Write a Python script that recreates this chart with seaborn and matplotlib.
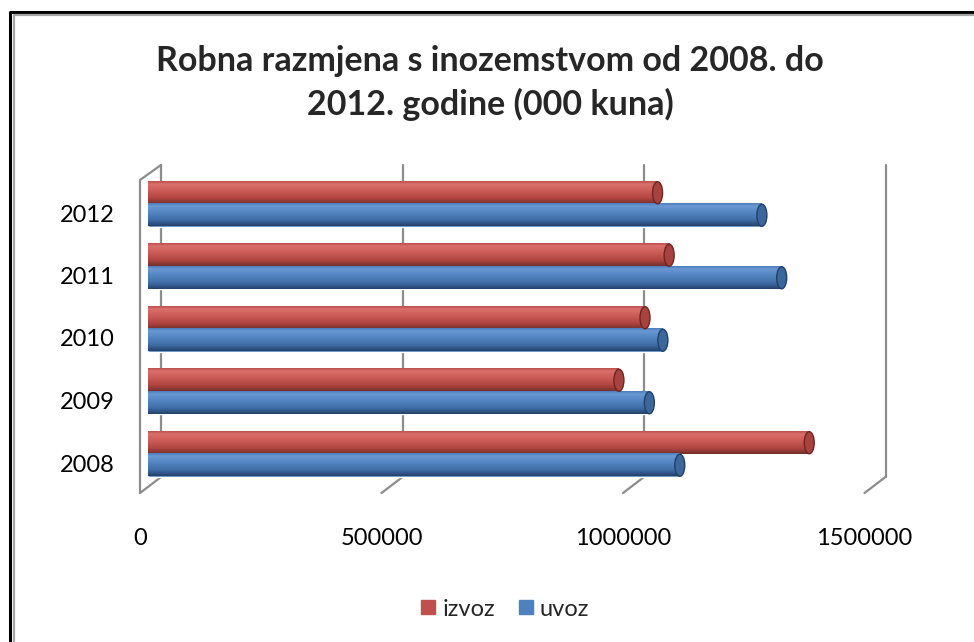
import numpy as np
import pandas as pd
import seaborn as sns
import matplotlib.pyplot as plt
import matplotlib.transforms as mtrans
from matplotlib.patches import Ellipse
from matplotlib.lines import Line2D
from matplotlib.colors import LinearSegmentedColormap

# podaci (000 kuna)
godine = ["2012", "2011", "2010", "2009", "2008"]
izvoz = [1055000, 1079000, 1029000, 975000, 1369000]
uvoz = [1271000, 1312000, 1066000, 1038000, 1101000]
serije = ["izvoz", "uvoz"]
xticks = [0, 500000, 1000000, 1500000]
xmax = 1500000
naslov = "Robna razmjena s inozemstvom od 2008. do\n2012. godine (000 kuna)"

sns.set_theme(style="white")
plt.rcParams['font.family'] = ['Lato', 'DejaVu Sans']

df = pd.DataFrame({
    "godina": godine * 2,
    "serija": ["izvoz"] * len(godine) + ["uvoz"] * len(godine),
    "vrijednost": izvoz + uvoz,
})

W, H = 974, 642
ax_l, ax_r, ax_t, ax_b = 148, 872.5, 172.75, 485.25
fig = plt.figure(figsize=(W / 100, H / 100), dpi=100)
ax = fig.add_axes([ax_l / W, 1 - ax_b / H, (ax_r - ax_l) / W, (ax_b - ax_t) / H])

sns.barplot(data=df, y="godina", x="vrijednost", hue="serija", order=godine,
            hue_order=serije, palette=["#C0504D", "#4F81BD"], width=0.72,
            orient="h", errorbar=None, saturation=1, legend=False, ax=ax)

# cilindricni izgled: gradijent + elipsa na kraju
cmaps = [
    LinearSegmentedColormap.from_list("r", [(0, "#B9504C"), (0.12, "#D9706B"), (0.35, "#D0605B"),
                                            (0.75, "#B1443F"), (1, "#74302C")]),
    LinearSegmentedColormap.from_list("b", [(0, "#4C7DBA"), (0.12, "#6A98D2"), (0.35, "#5889C6"),
                                            (0.75, "#3E6CA5"), (1, "#24416A")]),
]
caps = [("#A7423E", "#6E2623"), ("#3B679B", "#22406A")]
capw = 10 * xmax / (ax_r - ax_l)
grad = np.linspace(0, 1, 64).reshape(-1, 1)
for cont, cmap, (cfc, cec) in zip(ax.containers, cmaps, caps):
    for p in cont:
        x0, y0, w, h = p.get_x(), p.get_y(), p.get_width(), p.get_height()
        p.set_zorder(2)
        ax.add_patch(Ellipse((x0, y0 + h / 2), capw * 0.6, h, facecolor=cmap(0.4),
                             edgecolor="none", zorder=2))
        ax.imshow(grad, cmap=cmap, extent=[x0, x0 + w, y0 + h, y0], aspect="auto",
                  interpolation="bilinear", zorder=3)
        ax.add_patch(Ellipse((x0 + w, y0 + h / 2), capw, h * 0.98, facecolor=cfc,
                             edgecolor=cec, linewidth=1.0, zorder=4))

ax.set_xlim(0, xmax)
ax.set_ylim(len(godine) - 0.5, -0.5)
ax.set_xlabel("")
ax.set_ylabel("")
for s in ax.spines.values():
    s.set_visible(False)
ax.grid(False)

# 3D zidovi i mreza
pw = ax_r - ax_l
ph = ax_b - ax_t
def fx(v, dx=0):
    return v / xmax + dx / pw
def fy(py):
    return (ax_b - py) / ph

gc = "#8C8C8C"
kw = dict(transform=ax.transAxes, color=gc, linewidth=1.6, zorder=1, clip_on=False)
back, front = 13, -8
for xt in xticks:
    ax.add_line(Line2D([fx(xt, back), fx(xt, back)], [fy(165), fy(477)], **kw))
    ax.add_line(Line2D([fx(xt, back), fx(xt, front)], [fy(477), fy(493)], **kw))
ax.add_line(Line2D([fx(0, front), fx(0, front), fx(0, back)], [fy(493), fy(180), fy(165)], **kw))

# oznake osi
ax.set_xticks(xticks)
ax.set_xticklabels([str(t) for t in xticks])
ax.tick_params(axis="both", length=0, labelsize=17, colors="#000000")
ax.tick_params(axis="x", pad=31)
ax.tick_params(axis="y", pad=24)
for lab in ax.get_xticklabels():
    lab.set_transform(lab.get_transform() + mtrans.ScaledTranslation(-8 / 100, 0, fig.dpi_scale_trans))
for lab in ax.get_yticklabels():
    lab.set_transform(lab.get_transform() + mtrans.ScaledTranslation(0, -9 / 100, fig.dpi_scale_trans))

fig.text(490 / W, 1 - 83 / H, naslov, ha="center", va="center", fontsize=24.5,
         fontweight="bold", linespacing=1.38)

handles = [Line2D([], [], marker="s", linestyle="none", markersize=10, color=c)
           for c in ["#C0504D", "#4F81BD"]]
fig.legend(handles, serije, loc="center", bbox_to_anchor=(504 / W, 1 - 609 / H), ncol=2,
           frameon=False, fontsize=17, handletextpad=0.2, columnspacing=0.9,
           handlelength=0.8)

# okvir
fig.add_artist(Line2D([10 / W, 10 / W, 1], [0, 1 - 12 / H, 1 - 12 / H], transform=fig.transFigure,
                      color="black", linewidth=2.2))
fig.add_artist(Line2D([13.5 / W, 13.5 / W, 1], [0, 1 - 14.5 / H, 1 - 14.5 / H], transform=fig.transFigure,
                      color="#A6A6A6", linewidth=1.6))

fig.savefig("out.png", dpi=100)
